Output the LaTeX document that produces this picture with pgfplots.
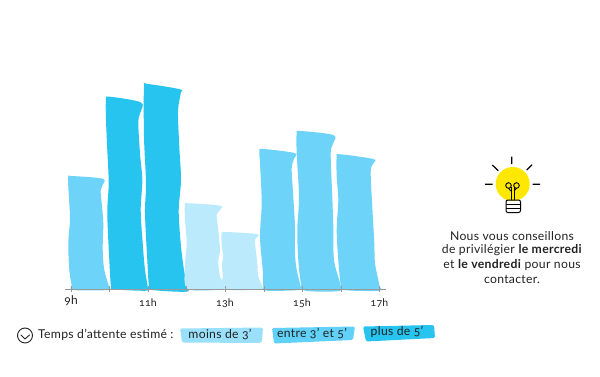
\documentclass[border=0pt]{standalone}
\usepackage{pgfplots}
\pgfplotsset{compat=1.18}
\usepackage{fontspec}
\setmainfont[Numbers=OldStyle,LetterSpace=2.5]{Lato}
\definecolor{dk}{HTML}{27C4F0}
\definecolor{md}{HTML}{6DD3F8}
\definecolor{lt}{HTML}{BAEAFB}
\definecolor{sw}{HTML}{9BE0FB}
\definecolor{tx}{HTML}{222222}
\definecolor{ax}{HTML}{999999}
\definecolor{yl}{HTML}{FFE800}
\begin{document}
\begin{tikzpicture}
\path (0pt,0pt) rectangle (600pt,376pt);
\begin{axis}[
  at={(65pt,86.7pt)},anchor=south west,
  scale only axis,width=321pt,height=220pt,
  xmin=65,xmax=386,ymin=0,ymax=220,clip=false,
  axis x line=bottom,axis y line=none,
  axis line style={draw=ax,-,line width=0.6pt},
  x axis line style={-},
  xtick={71,109.5,148,186.5,225,264,302,341,379.5},
  xticklabels={,,11h,,13h,,15h,,17h},
  extra x ticks={71},
  extra x tick labels={9h},
  extra x tick style={xticklabel style={font=\fontsize{12}{14}\selectfont,yshift=3.5pt}},
  tick style={draw=ax,line width=0.6pt},
  major tick length=6pt,
  xtick align=center,
  xticklabel style={font=\fontsize{10.5}{12}\selectfont,text=tx,yshift=-4.5pt,inner sep=2pt},
  axis on top,
]
\addplot[fill=md,draw=none,smooth cycle,tension=0.55] coordinates {(68.3,112.6)(71.7,113.3)(102.7,110.6)(102.7,104.3)(100.7,98.6)(101.7,86)(103.3,66)(102.7,39.3)(104.3,19.3)(109,2.6)(108.3,-0.7)(73.3,-0.7)(71.7,4.3)(69.3,19.3)(68.3,46)(70,69.3)(69.3,86)(68.3,102.6)};
\addplot[fill=dk,draw=none,smooth cycle,tension=0.55] coordinates {(106,189.3)(109.3,192.6)(140.7,187)(140.7,177.6)(138.3,167.6)(140,136)(142.3,109.3)(140.7,79.3)(142.7,46)(145,19.3)(147.7,2.6)(146.7,-1.4)(113.3,0)(111,2.6)(109.3,29.3)(107.3,76)(108.7,106)(107.3,139.3)(106,169.3)};
\addplot[fill=dk,draw=none,smooth cycle,tension=0.55] coordinates {(144,202.6)(147.3,205.3)(180,200)(180.7,196)(178,177.6)(179.3,142.6)(181,109.3)(178.7,79.3)(180.7,46)(184,19.3)(187.3,2.6)(186,-2.4)(151.7,-0.7)(149,2.6)(147.3,29.3)(145,76)(146,106)(144,152.6)};
\addplot[fill=lt,draw=none,smooth cycle,tension=0.55] coordinates {(185,84.3)(188.3,86)(220,83.6)(220,79.3)(216.7,74.3)(218.3,59.3)(220,39.3)(218.3,29.3)(220,12.6)(225,1)(188.3,0)(185,22.6)(186.7,46)(185,69.3)};
\addplot[fill=lt,draw=none,smooth cycle,tension=0.55] coordinates {(221.7,56)(225,57.3)(256.7,55.3)(256.7,52)(255,47.6)(257.3,26)(258.3,13)(263.3,1)(263.3,0)(226,0)(222.7,16)(222,26)(223.3,33)(221.7,44)};
\addplot[fill=md,draw=none,smooth cycle,tension=0.55] coordinates {(259.3,138.6)(263.3,140.3)(294.3,136.3)(294.3,131)(291.7,121)(293.3,92.6)(295,62.6)(295,36)(296.7,19.3)(300.7,2.6)(299.3,-0.7)(266.7,-1.4)(263.3,2.6)(262.7,19.3)(260,52.6)(261.7,86)(260,126)};
\addplot[fill=md,draw=none,smooth cycle,tension=0.55] coordinates {(296.7,156)(300,158.3)(333.3,154.3)(333.3,146)(330.7,136)(332.3,92.6)(333.3,62.6)(334,29.3)(340,6)(339.3,-1.7)(305,-1.4)(301,6)(298.3,29.3)(297.3,59.3)(299,92.6)(296.7,136)};
\addplot[fill=md,draw=none,smooth cycle,tension=0.55] coordinates {(336.7,132.6)(340,135)(373.3,130.3)(373.3,126)(370.7,117.6)(372.3,82.6)(374.3,46)(375,26)(379.3,4.3)(379.3,-1.4)(343.3,-0.7)(340.7,4.3)(338.3,29.3)(336.7,59.3)(338.3,89.3)(336.7,112.6)};
\end{axis}
\begin{scope}[x=1pt,y=-1pt,shift={(0pt,376pt)}]
% legend
\draw[tx,line width=0.9pt] (25,335.5) circle (7.5);
\draw[tx,line width=0.9pt,line cap=round,line join=round] (21,335) -- (25,339) -- (29.5,335);
\node[anchor=west,inner sep=0,text=tx,font=\fontsize{12.2}{14}\selectfont] at (38,335) {Temps d'attente estimé :};
\fill[sw,rounded corners=1.5pt] (180,328.5) -- (263,327.5) -- (262,340) -- (261,343) -- (182,342.5) -- cycle;
\fill[md!85!dk,rounded corners=1.5pt] (272,328) -- (355,326.5) -- (353,340) -- (274,343.5) -- cycle;
\fill[dk,rounded corners=1.5pt] (363,326.5) -- (434,325) -- (435,338) -- (366,341.5) -- cycle;
\node[inner sep=0,text=tx,font=\fontsize{12.2}{14}\selectfont] at (220,334.5) {moins de 3'};
\node[inner sep=0,text=tx,font=\fontsize{12.2}{14}\selectfont] at (312,333.5) {entre 3' et 5'};
\node[inner sep=0,text=tx,font=\fontsize{12.2}{14}\selectfont] at (397,331.5) {plus de 5'};
% bulb
\fill[yl] (512.7,184) circle (17);
\draw[black,line width=1.2pt]
 (511.7,156.7) -- (511.7,164)
 (485,184.3) -- (492.7,184.3)
 (532.7,184.3) -- (540,184.3)
 (492.3,165) -- (498.3,170.7)
 (532,164.7) -- (526.7,170);
\draw[black,line width=0.9pt] (508.5,185.5) circle (2.8) (516.5,185.5) circle (2.8);
\draw[black,line width=0.9pt,line join=round] (511,186.5) -- (511,200) (514,186.5) -- (514,200);
\draw[black,line width=0.9pt] (508.5,188.3) -- (511,191) (516.5,188.3) -- (514,191);
\draw[black,line width=1pt,rounded corners=2pt] (506,200) -- (520.5,200) -- (520.5,212.5) -- (506,212.5) -- cycle;
\draw[black,line width=0.8pt] (506,204) -- (520.5,204) (506,208) -- (520.5,208);
% note
\node[inner sep=0,text=tx,font=\fontsize{12.2}{14}\selectfont] at (512,236) {Nous vous conseillons};
\node[inner sep=0,text=tx,font=\fontsize{12.2}{14}\selectfont] at (512,250) {de privilégier \textbf{le mercredi}};
\node[inner sep=0,text=tx,font=\fontsize{12.2}{14}\selectfont] at (512,265) {et \textbf{le vendredi} pour nous};
\node[inner sep=0,text=tx,font=\fontsize{12.2}{14}\selectfont] at (512,279) {contacter.};
\end{scope}
\end{tikzpicture}
\end{document}
